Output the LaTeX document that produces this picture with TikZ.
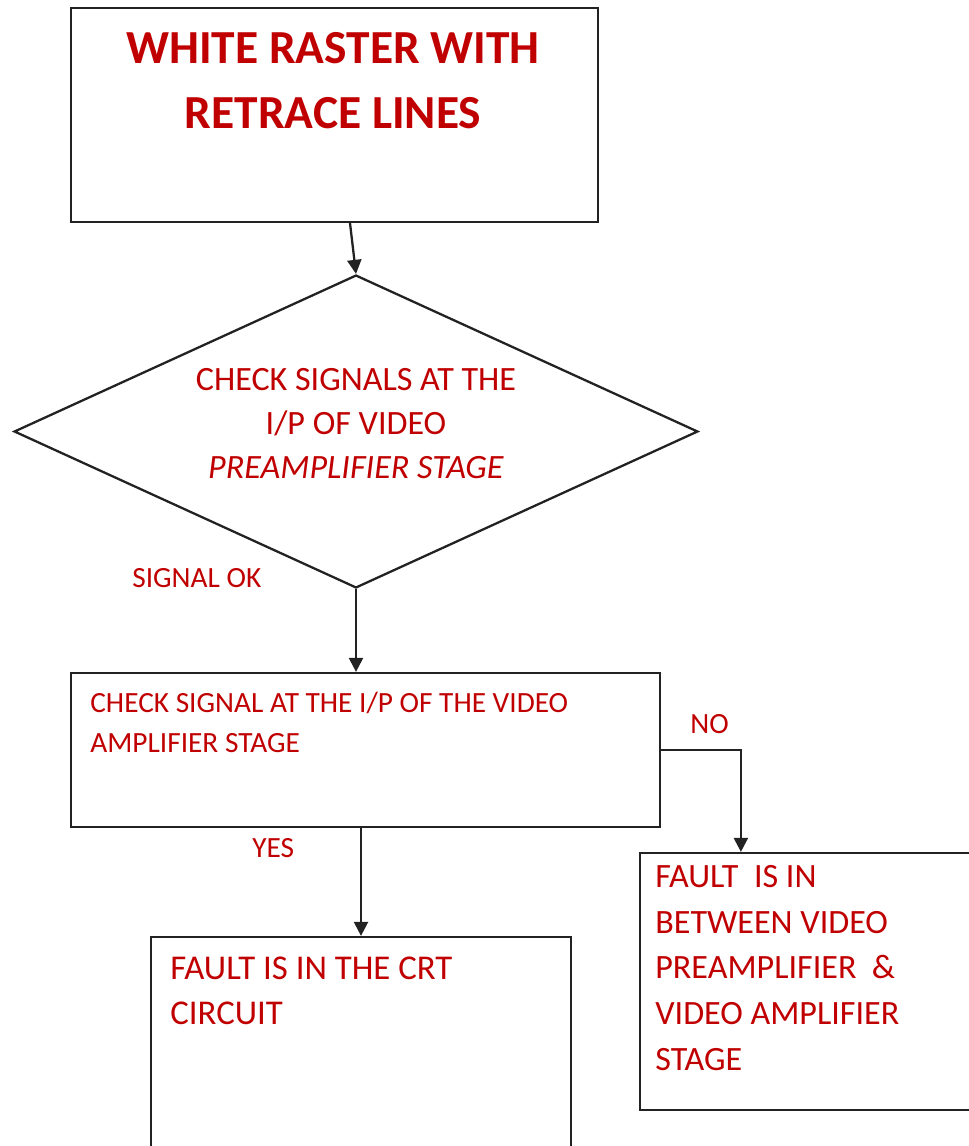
\documentclass[tikz,border=0pt]{standalone}
\usepackage{fontspec}
\setmainfont{Carlito}
\usetikzlibrary{shapes.geometric,arrows.meta,calc}
\definecolor{txtred}{HTML}{C00000}
\definecolor{edge}{HTML}{222222}
\tikzset{
  box/.style={draw=edge, line width=1.3pt, rectangle, inner sep=0pt},
  decision/.style={draw=edge, line width=1.3pt, diamond, inner sep=0pt},
  flow/.style={draw=edge, line width=1.3pt, -{Triangle[length=8pt,width=8pt]}},
  lbl/.style={text=txtred, inner sep=0pt},
  big/.style={lbl, font=\fontsize{27}{36.8}\selectfont\bfseries, align=center},
  mid/.style={lbl, font=\fontsize{19.4}{25}\selectfont, align=center},
  tag/.style={lbl, font=\fontsize{16.7}{22.7}\selectfont, align=left},
}
\begin{document}
\begin{tikzpicture}[x=0.02cm,y=-0.02cm]
\useasboundingbox (0,0) rectangle (968,1146);

% boxes and the decision
\node[box, minimum width=10.54cm, minimum height=4.28cm] (start) at (334.5,115) {};
\node[decision, minimum width=13.68cm, minimum height=6.26cm] (check) at (356,431.5) {};
\node[box, minimum width=11.78cm, minimum height=3.08cm] (amp) at (365.5,750) {};
\node[box, minimum width=6.9cm, minimum height=5.14cm] (between) at (812.5,981.5) {};
\node[box, minimum width=8.4cm, minimum height=4.6cm] (crt) at (361,1052) {};

% texts
\node[big, anchor=north] (startT) at (333,32) {WHITE RASTER WITH\\RETRACE LINES};
\node[mid, anchor=north] (checkT) at (356,368)
  {CHECK SIGNALS AT THE\\I/P OF VIDEO\\\textit{PREAMPLIFIER STAGE}};
\node[tag, anchor=north west] (ampT) at (90,692)
  {CHECK SIGNAL AT THE I/P OF THE VIDEO\\AMPLIFIER STAGE};
\node[lbl, anchor=north west, align=left, font=\fontsize{19.4}{26}\selectfont] (betweenT) at (655,865)
  {FAULT\ \ IS IN\\BETWEEN VIDEO\\PREAMPLIFIER\ \ \&\\VIDEO AMPLIFIER\\STAGE};
\node[lbl, anchor=north west, align=left, font=\fontsize{19.8}{25.5}\selectfont] (crtT) at (170,957)
  {FAULT IS IN THE CRT\\CIRCUIT};
\node[tag, anchor=north west] (okT) at (132,568) {SIGNAL OK};
\node[tag, anchor=north west] (noT) at (690,714) {NO};
\node[tag, anchor=north west] (yesT) at (252,838) {YES};

% connectors
\draw[flow] ($(start.south)+(15.5,0)$) -- (check.north);
\draw[flow] (check.south) -- (check.south |- amp.north);
\draw[flow] (amp.south -| crt.north) -- (crt.north);
\coordinate (noDrop) at ($(between.north west)+(102,0)$);
\draw[flow] (amp.east) -| (noDrop);
\end{tikzpicture}
\end{document}
